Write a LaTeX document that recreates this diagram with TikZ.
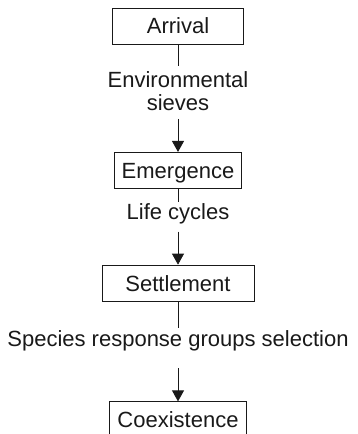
\documentclass[tikz,border=0pt]{standalone}
\usepackage{fontspec}
\setmainfont{Liberation Sans}
\usetikzlibrary{arrows.meta,positioning}

\begin{document}
\begin{tikzpicture}[x=1pt,y=1pt,>={Triangle[length=11pt,width=12pt]},
    font=\fontsize{22pt}{23pt}\selectfont,color=black!90]

    \useasboundingbox (0,0) rectangle (358,434);
    \clip (0,0) rectangle (358,434);

    \tikzstyle{stage}=[draw,line width=0.8pt,minimum height=36pt,text height=16pt,text depth=0pt,inner xsep=0pt]
    \tikzstyle{sieve}=[inner sep=0pt,align=center]
    \tikzstyle{link}=[line width=0.8pt]
    \begin{scope}
        \node [stage,minimum width=131pt] (arr) at (178,408) {Arrival};
        \node [sieve] (env) [below=27pt of arr] {Environmental\\sieves};
        \node [stage,minimum width=127pt] (emg) [below=41pt of env] {Emergence};
        \node [sieve] (lif) [below=15pt of emg] {Life cycles};
        \node [stage,minimum width=152pt] (stl) [below=40pt of lif] {Settlement};
        \node [sieve] (spc) [below=29pt of stl] {Species response groups selection};
        \node [stage,minimum width=137pt,minimum height=40pt] (cox) [below=50pt of spc] {\raisebox{2pt}{Coexistence}};

        \draw [link,shorten >=5pt] (arr) -- (env);
        \draw [link,->,shorten <=8pt] (env) -- (emg);
        \draw [link,shorten >=2pt] (emg) -- (lif);
        \draw [link,->,shorten <=7pt] (lif) -- (stl);
        \draw [link,shorten >=2pt] (stl) -- (spc);
        \draw [link,->,shorten <=17pt] (spc) -- (cox);
    \end{scope}
\end{tikzpicture}
\end{document}
